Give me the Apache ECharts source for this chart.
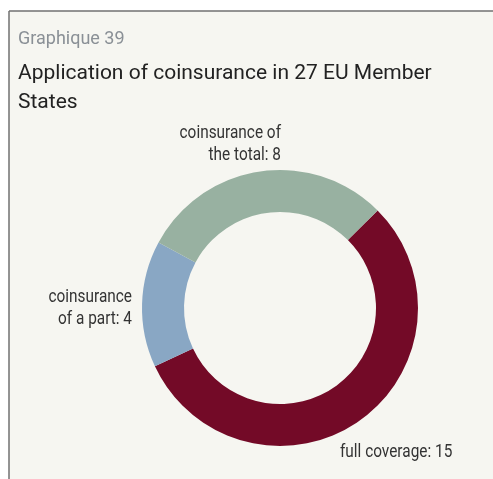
<!DOCTYPE html>
<html>
<head>
<meta charset="utf-8">
<script src="https://cdn.jsdelivr.net/npm/echarts@6/dist/echarts.min.js"></script>
<style>
  html, body { margin: 0; padding: 0; background: #ffffff; }
  #chart { width: 493px; height: 479px; }
</style>
</head>
<body>
<div id="chart"></div>
<script>
// Coverage categories and number of member states in each
const categories = ['full coverage', 'coinsurance\nof a part', 'coinsurance of\nthe total'];
const counts = [15, 4, 8];
const colors = ['#730a27', '#89a7c4', '#98b1a1'];

const labelFont = "'Roboto', sans-serif";
const titleFont = "'Roboto', 'Noto Sans', sans-serif";

// Where each slice's caption sits (narrowed Roboto for a condensed look)
const labelSpots = [
  { x: 340, y: 452, align: 'left' },
  { x: 281, y: 144, align: 'right' },
  { x: 132, y: 308, align: 'right' }
];
const spotFor = [0, 2, 1];

const chart = echarts.init(document.getElementById('chart'), null, { renderer: 'canvas' });

const captions = categories.map((name, i) => {
  const s = labelSpots[spotFor[i]];
  return {
    type: 'text',
    x: s.x, y: s.y,
    scaleX: 0.81,
    z: 10,
    style: {
      text: name + ': ' + counts[i],
      x: 0, y: 0,
      align: s.align,
      verticalAlign: 'middle',
      fontFamily: labelFont,
      fontSize: 19,
      lineHeight: 22,
      fill: '#333333'
    }
  };
});

chart.setOption({
  backgroundColor: '#ffffff',
  animation: false,
  graphic: [
    { type: 'rect', shape: { x: 9, y: 11, width: 484, height: 468 }, style: { fill: '#f6f6f1' }, z: -10 },
    { type: 'line', shape: { x1: 9, y1: 11, x2: 493, y2: 11 }, style: { stroke: '#707070', lineWidth: 1.5 }, z: -5 },
    { type: 'line', shape: { x1: 9, y1: 11, x2: 9, y2: 479 }, style: { stroke: '#707070', lineWidth: 1.5 }, z: -5 }
  ].concat(captions),
  title: [
    {
      text: 'Graphique 39',
      left: 18, top: 30, padding: 0,
      textStyle: { fontFamily: titleFont, fontSize: 18, fontWeight: 'normal', color: '#8a9096' }
    },
    {
      text: 'Application of coinsurance in 27 EU Member\nStates',
      left: 18, top: 59, padding: 0,
      textStyle: { fontFamily: titleFont, fontSize: 21, fontWeight: 'normal', color: '#222222', lineHeight: 29 }
    }
  ],
  series: [{
    type: 'pie',
    center: [280, 308],
    radius: [96, 138],
    startAngle: 45,
    clockwise: true,
    silent: true,
    data: categories.map((name, i) => ({ name: name, value: counts[i], itemStyle: { color: colors[i] } })),
    label: { show: false },
    labelLine: { show: false }
  }]
});
</script>
</body>
</html>
